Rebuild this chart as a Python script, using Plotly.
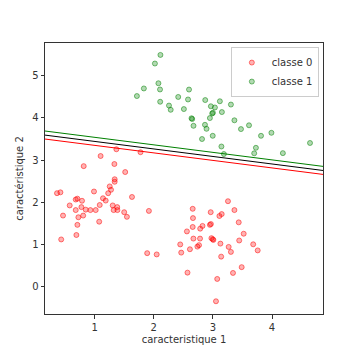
import numpy as np
import plotly.graph_objects as go

# class 0 (red) points
x0 = [1.10, 1.367, 1.775, 0.814, 1.333, 1.516, 1.338, 1.338, 0.362, 0.42, 0.988, 1.254, 1.276,
      1.228, 1.14, 1.186, 1.631, 0.679, 0.707, 0.785, 0.577, 0.775, 1.085, 1.305, 1.381, 0.679,
      0.848, 0.927, 1.017, 1.321, 1.384, 1.499, 1.917, 0.464, 0.724, 0.805, 1.545, 1.076, 0.707,
      0.433, 0.69, 1.888, 2.049,
      3.255, 2.658, 3.364, 2.963, 3.11, 3.149, 2.663, 3.437, 2.658, 2.949, 2.966, 2.785, 2.824,
      2.56, 3.521, 2.67, 2.782, 2.975, 2.997, 3.008, 3.445, 3.127, 2.765, 2.738, 3.682, 3.267,
      2.447, 2.611, 3.758, 3.305, 2.464, 3.14, 3.487, 2.57, 3.34, 3.073, 3.052]
y0 = [3.10, 3.26, 3.19, 2.86, 2.91, 2.72, 2.55, 2.49, 2.22, 2.24, 2.26, 2.38, 2.30,
      2.22, 2.10, 2.045, 2.13, 2.07, 2.09, 2.04, 1.93, 1.89, 1.94, 1.93, 1.89, 1.82,
      1.83, 1.82, 1.82, 1.82, 1.82, 1.77, 1.80, 1.69, 1.65, 1.69, 1.66, 1.545, 1.47,
      1.125, 1.23, 0.80, 0.77,
      2.03, 1.85, 1.82, 1.77, 1.68, 1.725, 1.63, 1.53, 1.42, 1.47, 1.49, 1.38, 1.445,
      1.315, 1.26, 1.145, 1.145, 1.156, 1.13, 1.114, 1.10, 1.026, 0.99, 0.955, 1.01, 0.948,
      1.007, 0.893, 0.865, 0.83, 0.813, 0.718, 0.469, 0.339, 0.332, 0.19, -0.339]

# class 1 (green) points
x1 = [2.112, 2.019, 2.078, 2.105, 1.832, 1.714, 2.108, 2.257, 2.286, 2.413, 2.596, 2.579, 2.509,
      2.638, 2.65, 2.672, 2.87, 2.966, 3.034, 3.118, 3.305, 3.0, 2.988, 3.152, 2.949, 3.364,
      2.866, 2.892, 3.611, 3.475, 2.997, 2.816, 3.144, 3.186, 3.699, 3.814, 3.99, 4.643, 3.728, 4.184]
y1 = [5.493, 5.289, 4.822, 4.675, 4.699, 4.519, 4.384, 4.294, 4.194, 4.498, 4.673, 4.438, 4.211,
      3.993, 3.976, 3.815, 4.424, 4.277, 4.249, 4.396, 4.318, 4.123, 4.107, 4.14, 3.998, 3.945,
      3.839, 3.744, 3.827, 3.737, 3.578, 3.502, 3.325, 3.147, 3.164, 3.578, 3.649, 3.408, 3.294, 3.168]

# separating line and margins: y = slope * x + intercept
slope = -0.178
intercepts = {"black": 3.623, "green": 3.72, "red": 3.53}
line_colors = {"black": "#000000", "green": "#008000", "red": "#ff0000"}

x_range = [0.159, 4.863]
y_range = [-0.64, 5.775]

fig = go.Figure()

xs = np.array([x_range[0] - 0.5, x_range[1] + 0.5])
for name in ["green", "black", "red"]:
    fig.add_trace(go.Scatter(x=xs, y=slope * xs + intercepts[name], mode="lines",
                             line=dict(color=line_colors[name], width=1),
                             showlegend=False, hoverinfo="skip"))

fig.add_trace(go.Scatter(x=x0, y=y0, mode="markers", name="classe 0",
                         marker=dict(size=5, color="rgba(255,0,0,0.3)",
                                     line=dict(color="rgba(255,0,0,0.5)", width=1))))
fig.add_trace(go.Scatter(x=x1, y=y1, mode="markers", name="classe 1",
                         marker=dict(size=5, color="rgba(0,128,0,0.3)",
                                     line=dict(color="rgba(0,128,0,0.5)", width=1))))

axis_common = dict(showline=True, linecolor="#333333", linewidth=1, mirror=True,
                   ticks="outside", ticklen=3.5, tickwidth=1, tickcolor="#333333",
                   showgrid=False, zeroline=False, automargin=False,
                   tickfont=dict(family="DejaVu Sans", size=10, color="#333333"))

fig.update_layout(
    width=360, height=349,
    margin=dict(l=45, r=37, t=43, b=35),
    paper_bgcolor="white", plot_bgcolor="white",
    font=dict(family="DejaVu Sans", size=10, color="#333333"),
    xaxis=dict(range=x_range, tickvals=[1, 2, 3, 4],
               title=dict(text="caracteristique 1", standoff=4, font=dict(size=10)),
               **axis_common),
    yaxis=dict(range=y_range, tickvals=[0, 1, 2, 3, 4, 5],
               title=dict(text="caractéristique 2", standoff=6, font=dict(size=10)),
               **axis_common),
    legend=dict(x=0.985, y=0.985, xanchor="right", yanchor="top",
                bgcolor="rgba(255,255,255,0.8)", bordercolor="#cccccc", borderwidth=1,
                font=dict(family="DejaVu Sans", size=10, color="#333333"),
                itemwidth=30, tracegroupgap=0),
)

fig.write_html("out.html")
